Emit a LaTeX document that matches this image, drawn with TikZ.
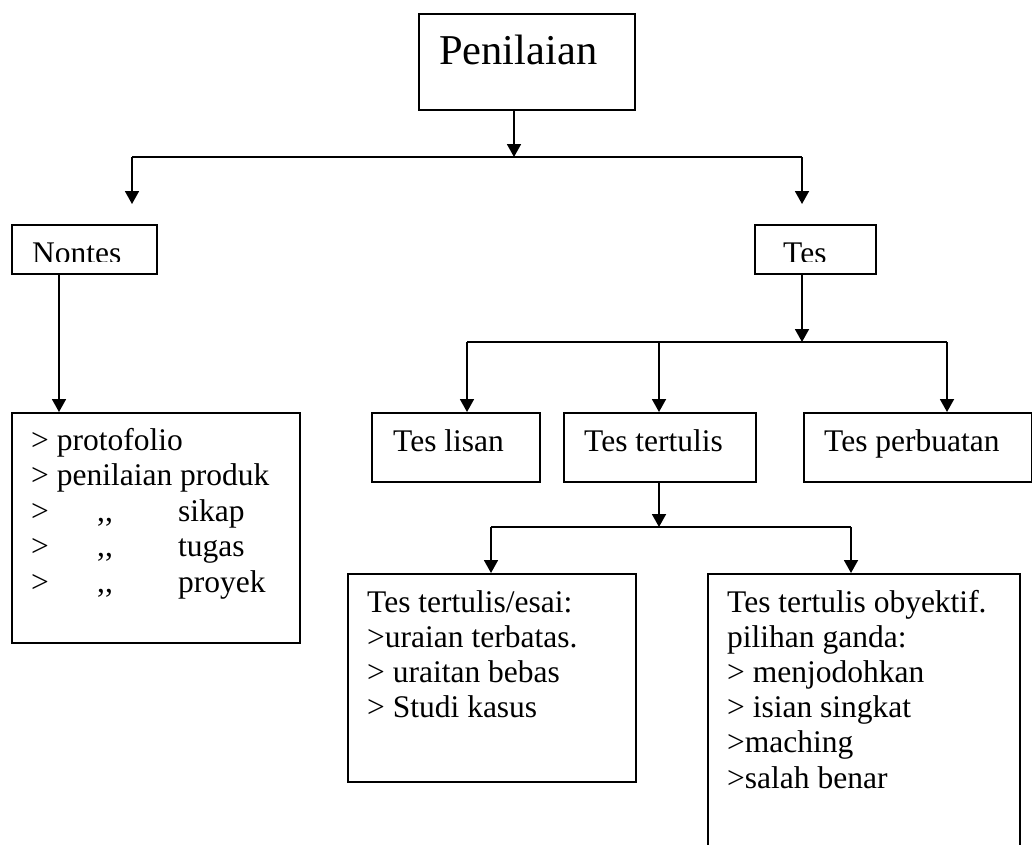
\documentclass[tikz,border=0pt]{standalone}
\usepackage{fontspec}
\setmainfont{Liberation Serif}
\usetikzlibrary{arrows.meta}
\begin{document}
\begin{tikzpicture}[x=1pt,y=-1pt,
  box/.style={draw, line width=1.8pt, inner sep=0pt, anchor=north west},
  ln/.style={line width=1.8pt},
  arr/.style={line width=1.8pt, -{Triangle[length=13pt,width=14pt]}},
  txt/.style={inner sep=0pt, anchor=base west, font=\fontsize{31.5}{35}\selectfont},
  big/.style={inner sep=0pt, anchor=base west, font=\fontsize{42.5}{48}\selectfont}]
\clip (0,0) rectangle (1032,844);
\fill[white] (0,0) rectangle (1032,844);
% boxes
\node[box, minimum width=216pt, minimum height=96pt] (pen) at (418,13) {};
\node[box, minimum width=145pt, minimum height=49pt] (nontes) at (11,224) {};
\node[box, minimum width=121pt, minimum height=49pt] (tes) at (754,224) {};
\node[box, minimum width=288pt, minimum height=230pt] (list) at (11,412) {};
\node[box, minimum width=168pt, minimum height=69pt] (lisan) at (371,412) {};
\node[box, minimum width=192pt, minimum height=69pt] (tertulis) at (563,412) {};
\node[box, minimum width=228pt, minimum height=69pt] (perbuatan) at (803,412) {};
\node[box, minimum width=288pt, minimum height=208pt] (esai) at (347,573) {};
\node[box, minimum width=312pt, minimum height=300pt] (obj) at (707,573) {};
% texts
\node[big] (tpen) at (439,64) {Penilaian};
\begin{scope}
\clip (12,225) rectangle (155,261);
\node[txt] (tnontes) at (32,263) {Nontes};
\end{scope}
\begin{scope}
\clip (755,225) rectangle (874,261);
\node[txt] (ttes) at (783,263) {Tes};
\end{scope}
\node[txt] (tlisan) at (393,451) {Tes lisan};
\node[txt] (ttertulis) at (584,451) {Tes tertulis};
\node[txt] (tperbuatan) at (824,451) {Tes perbuatan};
\foreach \t [count=\i] in {{> protofolio},{> penilaian produk},
  {\makebox[66pt][l]{>}\makebox[81pt][l]{,\kern0pt,}sikap},
  {\makebox[66pt][l]{>}\makebox[81pt][l]{,\kern0pt,}tugas},
  {\makebox[66pt][l]{>}\makebox[81pt][l]{,\kern0pt,}proyek}}
  \node[txt] (list\i) at (31,450+35.5*\i-35.5) {\t};
\foreach \t [count=\i] in {{Tes tertulis/esai:},{>uraian terbatas.},{> uraitan bebas},{> Studi kasus}}
  \node[txt] (esai\i) at (367,612+35.2*\i-35.2) {\t};
\foreach \t [count=\i] in {{Tes tertulis obyektif.},{pilihan ganda:},{> menjodohkan},{> isian singkat},{>maching},{>salah benar}}
  \node[txt] (obj\i) at (727,612+35.2*\i-35.2) {\t};
% connectors
\coordinate (j1) at (514,157);
\coordinate (j1l) at (132,157);
\coordinate (j1r) at (802,157);
\coordinate (a1l) at (132,204);
\coordinate (a1r) at (802,204);
\draw[arr] (pen.south -| j1) -- (j1);
\draw[ln] (j1l) -- (j1r);
\draw[arr] (j1l) -- (a1l);
\draw[arr] (j1r) -- (a1r);
\coordinate (n1) at (59,273);
\draw[arr] (nontes.south -| n1) -- (list.north -| n1);
\coordinate (j2) at (802,342);
\coordinate (j2l) at (467,342);
\coordinate (j2m) at (659,342);
\coordinate (j2r) at (947,342);
\draw[arr] (tes.south -| j2) -- (j2);
\draw[ln] (j2l) -- (j2r);
\draw[arr] (j2l) -- (lisan.north -| j2l);
\draw[arr] (j2m) -- (tertulis.north -| j2m);
\draw[arr] (j2r) -- (perbuatan.north -| j2r);
\coordinate (j3) at (659,527);
\coordinate (j3l) at (491,527);
\coordinate (j3r) at (851,527);
\draw[arr] (tertulis.south -| j3) -- (j3);
\draw[ln] (j3l) -- (j3r);
\draw[arr] (j3l) -- (esai.north -| j3l);
\draw[arr] (j3r) -- (obj.north -| j3r);
\end{tikzpicture}
\end{document}
